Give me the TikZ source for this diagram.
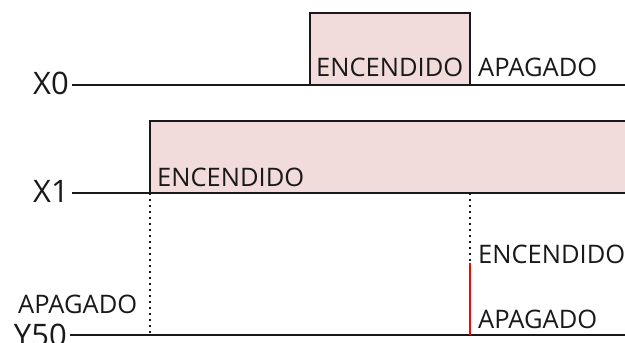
\documentclass[tikz,border=0pt]{standalone}
\usepackage{fontspec}
\setmainfont{Open Sans}
\definecolor{pulsefill}{RGB}{242,220,219}
\definecolor{ink}{RGB}{25,25,25}
\begin{document}
\begin{tikzpicture}[x=1pt,y=-1pt,
  sig/.style={line width=2.2pt, draw=ink},
  edge/.style={line width=1.8pt, draw=ink},
  lbl/.style={font=\fontsize{25.5}{28}\selectfont, inner sep=0pt, anchor=base west, text=ink},
  sname/.style={font=\fontsize{31}{33}\selectfont, inner sep=0pt, anchor=east, text=ink},
  dotline/.style={line width=2.4pt, draw=ink, dash pattern=on 2.4pt off 3.6pt},
  onpath/.style={line width=2.2pt, draw=red}]
\useasboundingbox (0,0) rectangle (625,343);
\clip (0,0) rectangle (625,343);
% named coordinates
\coordinate (x0a) at (72,85);  \coordinate (x0b) at (626,85);
\coordinate (x1a) at (72,193); \coordinate (x1b) at (626,193);
\coordinate (y5a) at (70,335); \coordinate (y5b) at (626,335);
\coordinate (p0bl) at (310,85); \coordinate (p0tl) at (310,13);
\coordinate (p0tr) at (470,13); \coordinate (p0br) at (470,85);
\coordinate (p1bl) at (150,193); \coordinate (p1tl) at (150,121);
\coordinate (p1tr) at (627,121); \coordinate (p1br) at (627,193);
\coordinate (d1b) at (150,335);
\coordinate (d2t) at (470,193); \coordinate (d2m) at (470,263); \coordinate (d2b) at (470,335);
% pulses
\fill[pulsefill] (p0bl) rectangle (p0tr);
\fill[pulsefill] (p1bl) rectangle (p1tr);
\draw[edge] (p0bl) -- (p0tl) -- (p0tr) -- (p0br);
\draw[edge] (p1bl) -- (p1tl) -- (p1tr);
% signal lines
\draw[sig] (x0a) -- (x0b);
\draw[sig] (x1a) -- (x1b);
\draw[sig] (y5a) -- (y5b);
% dotted guides
\draw[dotline] (p1bl) -- (d1b);
\draw[dotline] (d2t) -- (d2m);
\draw[onpath] (d2m) -- (d2b);
% signal names
\node[sname] (nx0) at (69,83) {X0};
\node[sname] (nx1) at (69,191) {X1};
\node[sname] (ny50) at (67,335) {Y50};
% state labels
\node[lbl] (t1) at (316,76) {ENCENDIDO};
\node[lbl] (t2) at (478,76) {APAGADO};
\node[lbl] (t3) at (157,186) {ENCENDIDO};
\node[lbl] (t4) at (478,263) {ENCENDIDO};
\node[lbl] (t5) at (478,328) {APAGADO};
\node[lbl] (t6) at (18,313) {APAGADO};
\end{tikzpicture}
\end{document}
